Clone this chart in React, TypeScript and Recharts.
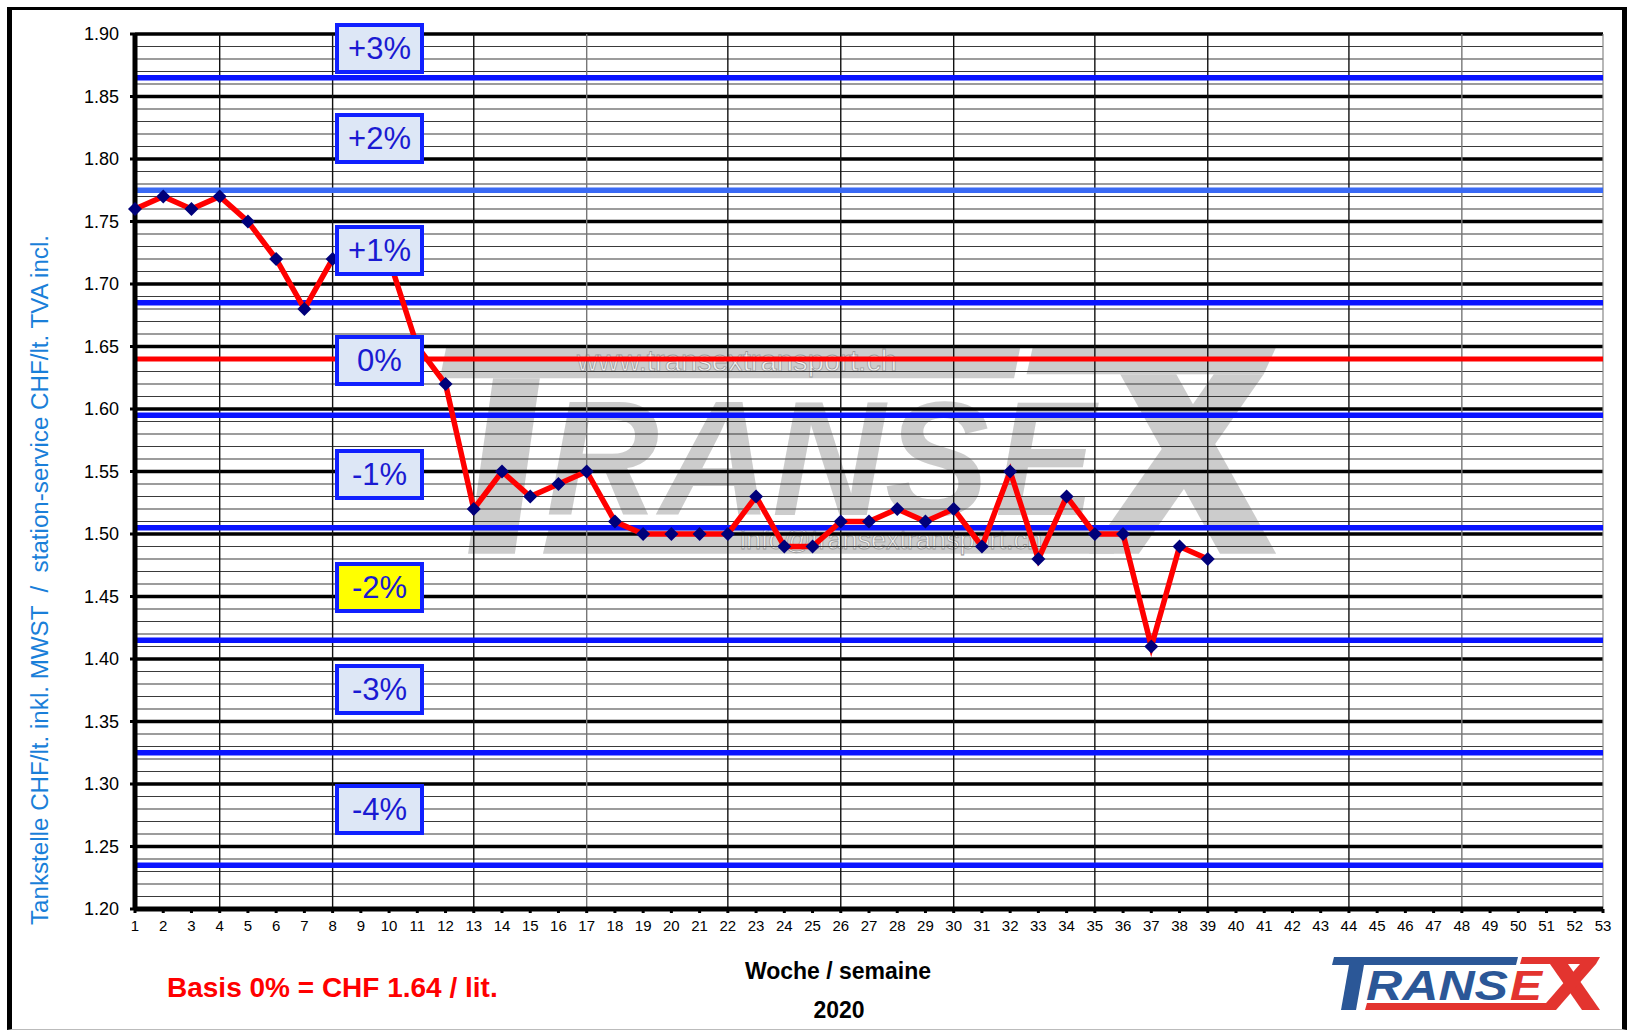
import React from 'react';
import { LineChart, Line, XAxis, YAxis, CartesianGrid, ReferenceLine } from 'recharts';

// weeks on the x axis
const weeks = [
    1, 2, 3, 4, 5, 6, 7, 8, 9, 10, 11, 12, 13, 14, 15, 16, 17, 18, 19, 20, 21, 22, 23, 24, 25, 26,
    27, 28, 29, 30, 31, 32, 33, 34, 35, 36, 37, 38, 39, 40, 41, 42, 43, 44, 45, 46, 47, 48, 49, 50, 51, 52, 53,
];

// weeks with a price reading (2020)
const priceWeeks = [
    1, 2, 3, 4, 5, 6, 7, 8, 9, 10, 11, 12, 13, 14, 15, 16, 17, 18, 19, 20,
    21, 22, 23, 24, 25, 26, 27, 28, 29, 30, 31, 32, 33, 34, 35, 36, 37, 38, 39,
];

// CHF / litre at the pump
const prices = [
    1.76, 1.77, 1.76, 1.77, 1.75, 1.72, 1.68, 1.72, 1.73, 1.72, 1.65, 1.62, 1.52, 1.55, 1.53, 1.54, 1.55, 1.51, 1.50, 1.50,
    1.50, 1.50, 1.53, 1.49, 1.49, 1.51, 1.51, 1.52, 1.51, 1.52, 1.49, 1.55, 1.48, 1.53, 1.50, 1.50, 1.41, 1.49, 1.48,
];

const yTicks = [1.20, 1.25, 1.30, 1.35, 1.40, 1.45, 1.50, 1.55, 1.60, 1.65, 1.70, 1.75, 1.80, 1.85, 1.90];

// vertical grid lines (month starts)
const monthWeeks = [4, 8, 13, 17, 22, 26, 30, 35, 39, 44, 48];
const greyMonthWeeks = [17, 48];

const basis = 1.64;
const bandLines = [1.865, 1.775, 1.685, 1.595, 1.505, 1.415, 1.325, 1.235];
const bandLabels = ['+3%', '+2%', '+1%', '0%', '-1%', '-2%', '-3%', '-4%'];

// layout of the percentage boxes (px from top of page)
const boxTops = [23, 113, 225, 335, 449, 562, 664, 784];

const data = priceWeeks.map((w, i) => ({ week: w, price: prices[i] }));

const minorLines: number[] = [];
yTicks.slice(0, -1).forEach((t) => {
    for (let k = 1; k < 5; k++) minorLines.push(Math.round((t + k * 0.01) * 100) / 100);
});

const FONT = '"Liberation Sans", Arial, sans-serif';

function Diamond(props: any) {
    const { cx, cy } = props;
    if (cx == null || cy == null) return null;
    const r = 7;
    return (
        <path
            d={`M${cx},${cy - r} L${cx + r},${cy} L${cx},${cy + r} L${cx - r},${cy} Z`}
            fill="#00007a"
        />
    );
}

function Logo({ x, y, sx, sy, blue, red }: { x: number; y: number; sx: number; sy: number; blue: string; red: string }) {
    return (
        <g transform={`translate(${x},${y}) scale(${sx},${sy})`}>
            <polygon points="2,0 186,0 184,8 0,8" fill={blue} />
            <polygon points="17,8 32,8 24,53 9,53" fill={blue} />
            <text x={34} y={43} fontSize={42} fontWeight="bold" fontStyle="italic" fill={blue}
                textLength={142} lengthAdjust="spacingAndGlyphs" fontFamily={FONT}>RANS</text>
            <text x={178} y={43} fontSize={42} fontWeight="bold" fontStyle="italic" fill={red}
                textLength={32} lengthAdjust="spacingAndGlyphs" fontFamily={FONT}>E</text>
            <polygon points="35,46 218,46 216,53 33,53" fill={red} />
            <polygon points="190,0 268,0 264,7 188,7" fill={red} />
            <polygon points="218,7 236,7 268,53 250,53" fill={red} />
            <polygon points="248,7 264,7 224,53 208,53" fill={red} />
        </g>
    );
}

export default function App() {
    return (
        <div style={{ position: 'absolute', left: 0, top: 0, width: 1631, height: 1031, background: '#fff', fontFamily: FONT, overflow: 'hidden' }}>
            {/* frame */}
            <div style={{
                position: 'absolute', left: 7, top: 7, width: 1620, height: 1023, boxSizing: 'border-box',
                borderLeft: '5px solid #000', borderTop: '3.5px solid #000', borderRight: '5px solid #000', borderBottom: '1px solid #bbb',
            }} />

            {/* watermark */}
            <svg width={1631} height={1031} style={{ position: 'absolute', left: 0, top: 0 }}>
                <g opacity={0.85}>
                    <Logo x={440} y={347} sx={3.12} sy={3.9} blue="#c4c4c4" red="#c4c4c4" />
                </g>
                <text x={577} y={371} fontSize={30} fill="#f2f2f2" stroke="#9a9a9a" strokeWidth={0.8}
                    textLength={320} lengthAdjust="spacingAndGlyphs" fontFamily={FONT}>www.transextransport.ch</text>
                <text x={740} y={549} fontSize={27} fill="#f2f2f2" stroke="#9a9a9a" strokeWidth={0.8}
                    fontFamily={FONT}>info@transextransport.ch</text>
            </svg>

            <div style={{ position: 'absolute', left: 0, top: 0 }}>
                <LineChart width={1631} height={1031} data={data} margin={{ top: 34, right: 28, bottom: 92, left: 75 }}>
                    <CartesianGrid horizontal vertical={false} stroke="#000" strokeWidth={3.5} strokeOpacity={1} />
                    {minorLines.map((v) => (
                        <ReferenceLine key={'m' + v} y={v} stroke="#3a3a3a" strokeWidth={1.2} />
                    ))}
                    {monthWeeks.map((w) => (
                        <ReferenceLine key={'w' + w} x={w} stroke={greyMonthWeeks.includes(w) ? '#777' : '#111'} strokeWidth={1.4} />
                    ))}
                    <ReferenceLine x={53} stroke="#888" strokeWidth={1.2} />
                    {bandLines.map((v) => (
                        <ReferenceLine key={'b' + v} y={v} stroke={v === 1.775 ? '#3a6af5' : '#0a14ff'} strokeWidth={5.5} />
                    ))}
                    <ReferenceLine y={basis} stroke="#ff0000" strokeWidth={5} />
                    <XAxis
                        type="number"
                        dataKey="week"
                        domain={[1, 53]}
                        ticks={weeks}
                        interval={0}
                        height={30}
                        tickSize={4}
                        tickMargin={7}
                        axisLine={{ stroke: '#000', strokeWidth: 5 }}
                        tickLine={{ stroke: '#000', strokeWidth: 3 }}
                        tick={{ fontSize: 15, fill: '#000', fontFamily: FONT }}
                    />
                    <YAxis
                        type="number"
                        domain={[1.2, 1.9]}
                        ticks={yTicks}
                        interval={0}
                        width={60}
                        tickSize={5}
                        tickMargin={11}
                        tickFormatter={(v: number) => v.toFixed(2)}
                        axisLine={{ stroke: '#000', strokeWidth: 5 }}
                        tickLine={{ stroke: '#000', strokeWidth: 3 }}
                        tick={{ fontSize: 18, fill: '#000', fontFamily: FONT }}
                    />
                    <Line
                        type="linear"
                        dataKey="price"
                        stroke="#ff0000"
                        strokeWidth={5.5}
                        dot={<Diamond />}
                        activeDot={false}
                        isAnimationActive={false}
                    />
                </LineChart>
            </div>

            {/* percentage boxes */}
            {bandLabels.map((lab, i) => (
                <div key={lab} style={{
                    position: 'absolute', left: 335, top: boxTops[i], width: 89, height: 51, boxSizing: 'border-box',
                    border: '4px solid #1020ff', background: lab === '-2%' ? '#ffff00' : '#dde7f6',
                    color: '#1a1ad2', fontSize: 31, display: 'flex', alignItems: 'center', justifyContent: 'center',
                    fontFamily: FONT,
                }}>{lab}</div>
            ))}

            {/* texts and logo */}
            <svg width={1631} height={1031} style={{ position: 'absolute', left: 0, top: 0, pointerEvents: 'none' }}>
                <text transform="translate(40,580) rotate(-90)" textAnchor="middle" dominantBaseline="central"
                    fontSize={23} fill="#1a7fd9" fontFamily={FONT} style={{ whiteSpace: 'pre' }}
                    textLength={690} lengthAdjust="spacingAndGlyphs">
                    {'Tankstelle CHF/lt. inkl. MWST  /  station-service CHF/lt. TVA incl.'}
                </text>
                <text x={167} y={997} fontSize={28} fontWeight="bold" fill="#ff0000" fontFamily={FONT}>
                    Basis 0% = CHF 1.64 / lit.
                </text>
                <text x={838} y={979} textAnchor="middle" fontSize={23} fontWeight="bold" fill="#000" fontFamily={FONT}>
                    Woche / semaine
                </text>
                <text x={839} y={1018} textAnchor="middle" fontSize={23} fontWeight="bold" fill="#000" fontFamily={FONT}>
                    2020
                </text>
                <Logo x={1332} y={957} sx={1} sy={1} blue="#2b5797" red="#e3342f" />
            </svg>
        </div>
    );
}
